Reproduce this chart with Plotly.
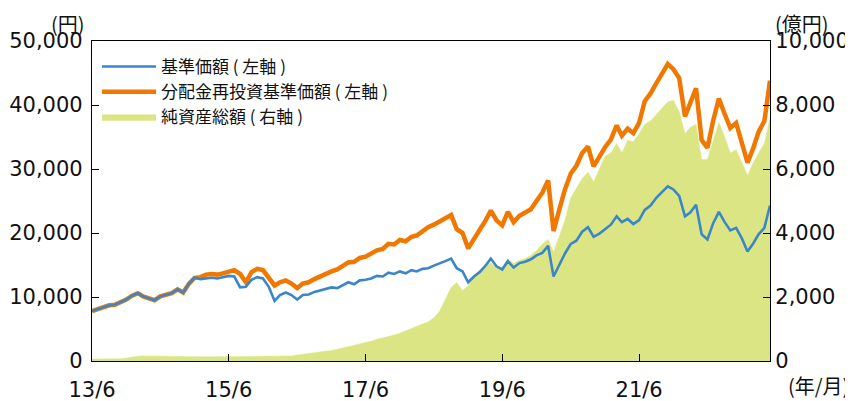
import plotly.graph_objects as go
import pandas as pd

# Monthly dates 2013-06 .. 2023-05
dates = pd.date_range("2013-06-01", periods=120, freq="MS")

# 基準価額 (円, left axis)
nav = [7800, 8100, 8300, 8700, 8800, 9200, 9600, 10200, 10600, 10100, 9800, 9500,
       10100, 10400, 10600, 11200, 10700, 12100, 13000, 12800, 12900, 13000, 12900, 13100,
       13300, 13200, 11500, 11600, 12700, 13100, 12900, 11600, 9400, 10300, 10700, 10300,
       9600, 10300, 10400, 10800, 11000, 11300, 11500, 11400, 11900, 12300, 12000, 12600,
       12700, 12900, 13300, 13200, 13800, 13600, 14000, 13700, 14200, 14000, 14400, 14500,
       14900, 15200, 15600, 16000, 14500, 14000, 12300, 13200, 13900, 14800, 16000, 14800,
       14300, 15600, 14600, 15300, 15500, 15900, 16500, 16900, 18000, 13200, 15000, 16800,
       18300, 18800, 20200, 20900, 19400, 19900, 20600, 21300, 22600, 21700, 22200, 21400,
       22000, 23600, 24300, 25500, 26400, 27300, 26800, 25800, 22600, 23200, 24400, 19800,
       19000, 21500, 23300, 21700, 20400, 20800, 19200, 17100, 18400, 19800, 20800, 24300]

# 分配金再投資基準価額 (円, left axis)
nav_reinv = [7800, 8100, 8300, 8700, 8800, 9200, 9600, 10200, 10600, 10100, 9800, 9500,
             10100, 10400, 10600, 11200, 10700, 12100, 13000, 13100, 13500, 13600, 13500, 13700,
             13900, 14200, 13600, 12300, 13900, 14400, 14200, 13100, 11800, 12300, 12600, 12100,
             11400, 12100, 12300, 12800, 13200, 13700, 14000, 14300, 14900, 15400, 15500, 16100,
             16300, 16700, 17300, 17500, 18300, 18200, 18900, 18700, 19400, 19600, 20300, 20900,
             21300, 21800, 22300, 22800, 20600, 20000, 17600, 19200, 20500, 21800, 23500, 22000,
             21200, 23300, 21700, 22700, 23100, 23700, 25000, 26300, 28200, 20300, 23700, 26800,
             29300, 30500, 32500, 33500, 30400, 32000, 33400, 34600, 36800, 35200, 36300, 35600,
             37200, 40600, 41800, 43400, 45000, 46400, 45600, 44200, 38200, 40300, 42600, 34500,
             33300, 37500, 41000, 38600, 36400, 37200, 34400, 31000, 33300, 35800, 37500, 43800]

# 純資産総額 (億円, right axis)
net_assets = [60, 60, 60, 60, 65, 70, 90, 130, 150, 160, 155, 150,
              150, 150, 145, 140, 140, 135, 130, 130, 130, 130, 125, 125,
              125, 125, 130, 130, 135, 140, 140, 145, 150, 150, 155, 160,
              190, 210, 230, 260, 290, 310, 330, 370, 410, 450, 490, 530,
              570, 620, 680, 720, 760, 810, 870, 950, 1020, 1100, 1160, 1220,
              1350, 1550, 1900, 2300, 2450, 2200, 2350, 2650, 2850, 3000, 3060, 2900,
              2940, 3200, 3050, 3150, 3200, 3300, 3450, 3650, 3800, 3400, 3900, 4400,
              5100, 5400, 5700, 5900, 5600, 6000, 6400, 6500, 6800, 6500, 6900, 6850,
              7100, 7400, 7500, 7700, 7900, 8100, 8150, 7800, 7100, 7300, 7400, 6300,
              6300, 6900, 7450, 7000, 6500, 6600, 6200, 5800, 6200, 6500, 6800, 7600]

x_tickvals = ["2013-06-01", "2015-06-01", "2017-06-01", "2019-06-01", "2021-06-01"]
x_ticktext = ["13/6", "15/6", "17/6", "19/6", "21/6"]

FONT = "Noto Sans CJK JP"
NUMFONT = "DejaVu Sans, Noto Sans CJK JP"
BLUE = "#3a86c8"
ORANGE = "#f07800"
GREEN = "#dce584"

fig = go.Figure()

fig.add_trace(go.Scatter(
    x=dates, y=net_assets, name="純資産総額 ( 右軸 )",
    mode="lines", fill="tozeroy", fillcolor=GREEN,
    line=dict(color=GREEN, width=0.5), yaxis="y", legendrank=3))

fig.add_trace(go.Scatter(
    x=dates, y=nav_reinv, name="分配金再投資基準価額 ( 左軸 )",
    mode="lines", line=dict(color=ORANGE, width=4.5), yaxis="y2", legendrank=2))

fig.add_trace(go.Scatter(
    x=dates, y=nav, name="基準価額 ( 左軸 )",
    mode="lines", line=dict(color=BLUE, width=2.6), yaxis="y2", legendrank=1))

axis_common = dict(
    ticks="inside", ticklen=7, tickcolor="black", tickwidth=1.2,
    showline=True, linecolor="black", linewidth=1.2,
    showgrid=False, zeroline=False, automargin=False,
    tickfont=dict(family=NUMFONT, size=21, color="#111"))

# The page body adds an 8px offset, so the figure is sized/margined to compensate
fig.update_layout(
    width=845, height=393,
    margin=dict(l=84, r=83, t=33, b=40, autoexpand=False),
    paper_bgcolor="white", plot_bgcolor="white",
    font=dict(family=FONT, size=20, color="#111"),
    showlegend=True,
    legend=dict(x=(97 - 92) / 678, y=0.975, xanchor="left", yanchor="top",
                bgcolor="rgba(0,0,0,0)", font=dict(size=17, family=FONT),
                traceorder="normal", itemwidth=54),
    xaxis=dict(
        type="date", range=["2013-06-01", "2023-05-01"],
        tickvals=x_tickvals, ticktext=x_ticktext, mirror=True,
        ticklabelstandoff=10, **axis_common),
    yaxis=dict(
        side="right", range=[0, 10000], dtick=2000, tickformat=",", **axis_common),
    yaxis2=dict(
        side="left", overlaying="y", range=[0, 50000], dtick=10000, tickformat=",",
        ticklabelstandoff=4, **axis_common),
    annotations=[
        dict(text="(円)", xref="paper", yref="paper", x=(68 - 92) / 678, y=(361 - 23) / 320,
             xanchor="center", yanchor="middle", showarrow=False, font=dict(size=20)),
        dict(text="(億円)", xref="paper", yref="paper", x=(802 - 92) / 678, y=(361 - 23) / 320,
             xanchor="center", yanchor="middle", showarrow=False, font=dict(size=20)),
        dict(text="(年/月)", xref="paper", yref="paper", x=(818 - 92) / 678, y=(361 - 385) / 320,
             xanchor="center", yanchor="middle", showarrow=False, font=dict(size=20)),
    ],
)

fig.write_html("out.html")
